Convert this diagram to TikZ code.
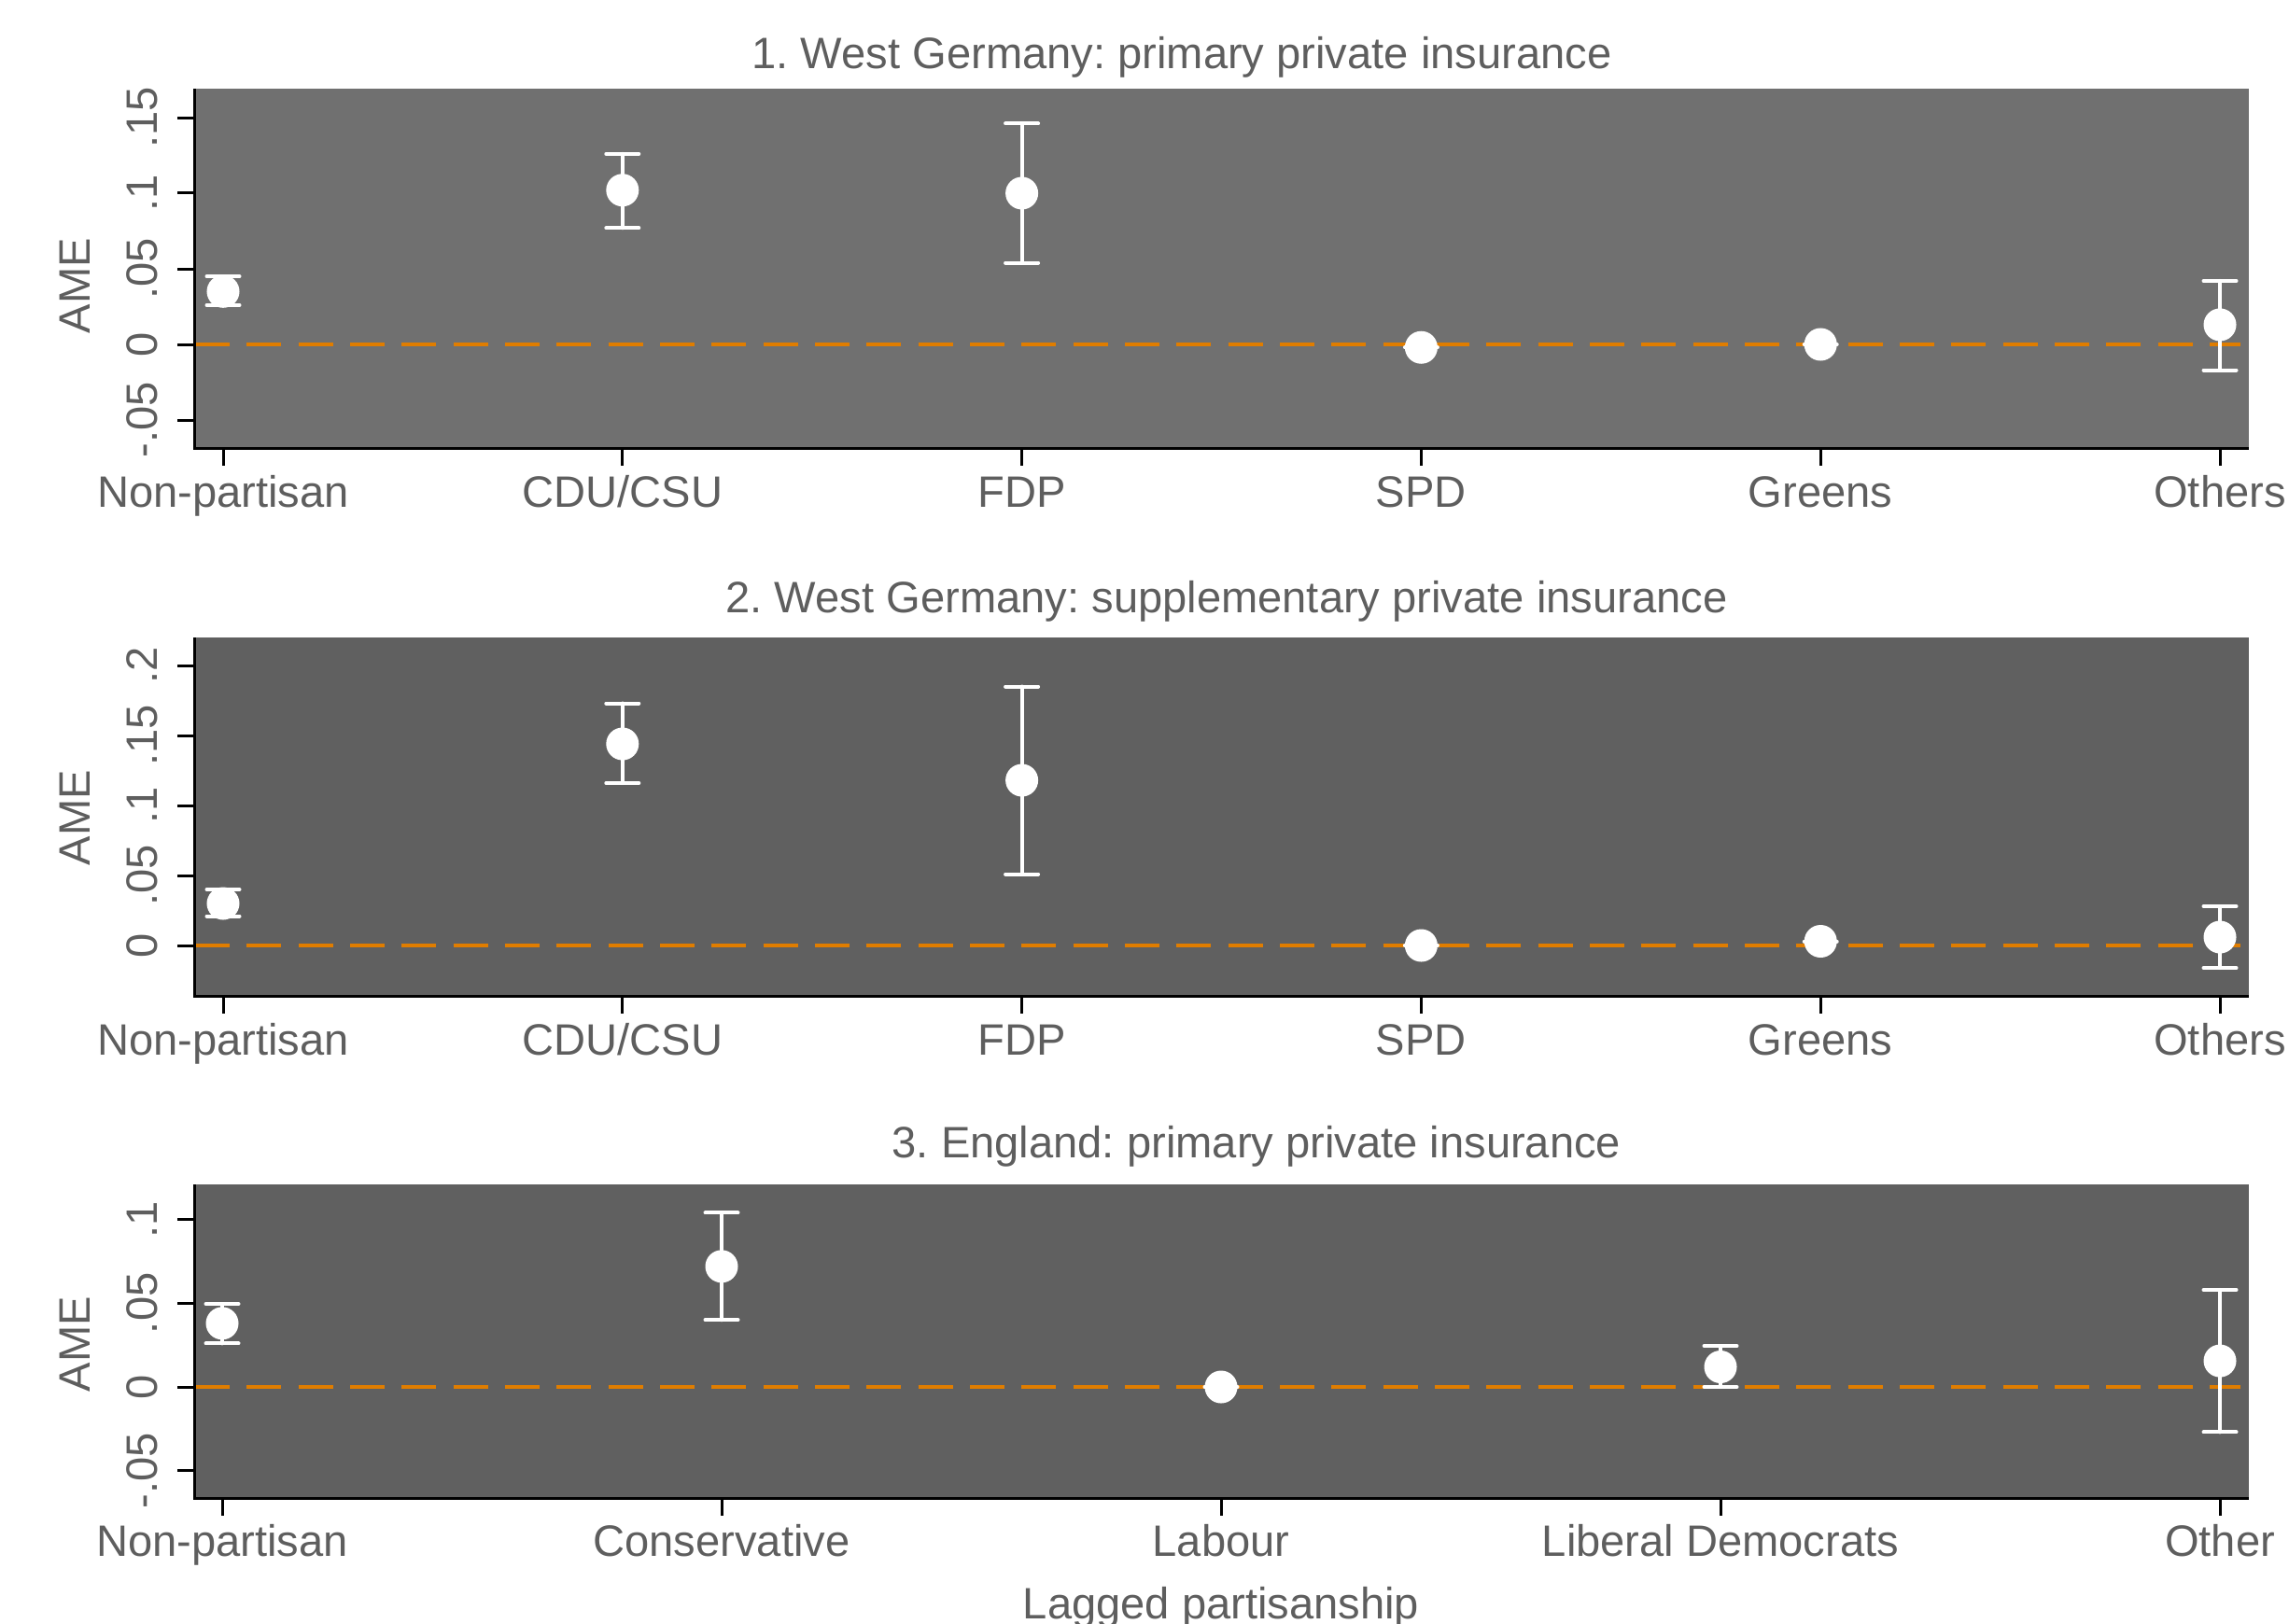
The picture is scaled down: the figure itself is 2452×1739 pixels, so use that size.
\documentclass[tikz,border=0pt]{standalone}
\usepackage{fontspec}
\setmainfont{Liberation Sans}
\frenchspacing
\definecolor{labgray}{RGB}{94,94,94}
\definecolor{plotbgA}{RGB}{112,112,112}
\definecolor{plotbgB}{RGB}{96,96,96}
\definecolor{refline}{RGB}{224,125,0}
\tikzset{
	axisline/.style={line width=0.03cm, black},
	ticklabel/.style={text=labgray, inner sep=0pt, anchor=base, font=\fontsize{13.4}{16}\selectfont},
	yticklabel/.style={ticklabel, rotate=90},
	ptmark/.style={circle, fill=white, inner sep=0pt, minimum size=0.35cm},
	cibar/.style={white, line width=0.04cm, line cap=round},
	zeroline/.style={refline, line width=0.045cm, dash pattern=on 0.37cm off 0.183cm},
}

\begin{document}
\begin{tikzpicture}[x=0.01cm, y=-0.01cm]
	\useasboundingbox (0,0) rectangle (2452,1739);
	% 1. West Germany, primary
	\node[ticklabel] (title1) at (1266,73) {1. West Germany: primary private insurance};
	\fill[plotbgA] (208,95) rectangle (2409,480);
	\draw[zeroline] (209,369) -- (2400,369);
	\foreach \k/\m/\lo/\hi in {0/.035/.026/.045, 1/.102/.077/.126, 2/.100/.054/.146, 3/-.002/-.002/-.002, 4/0/0/0, 5/.013/-.017/.042}
		{
		\pgfmathsetmacro\px{239+427.8*\k}
		\draw[cibar] (\px-17.5,{369-1620*\lo}) -- ++(35,0) (\px,{369-1620*\lo}) -- (\px,{369-1620*\hi}) (\px-17.5,{369-1620*\hi}) -- ++(35,0);
		\node[ptmark] (wgp-\k) at (\px,{369-1620*\m}) {};
		}
	\draw[axisline] (208,95) -- (208,480) -- (2409,480);
	\foreach \v [count=\i] in {-.05,0,.05,.1,.15}
		{
		\draw[axisline] (190,{369-1620*\v}) -- (208,{369-1620*\v});
		\node[yticklabel] (wgpy-\i) at (168,{369-1620*\v}) {\v};
		}
	\foreach \k/\t in {0/Non-partisan, 1/{CDU/CSU}, 2/FDP, 3/SPD, 4/Greens, 5/Others}
		{
		\draw[axisline] ({239+427.8*\k},480) -- ({239+427.8*\k},499);
		\node[ticklabel] (wgpx-\k) at ({239+427.8*\k},543) {\t};
		}
	\node[yticklabel] (ame1) at (97,306) {AME};
	% 2. West Germany, supplementary
	\node[ticklabel] (title2) at (1314,656) {2. West Germany: supplementary private insurance};
	\fill[plotbgB] (208,683) rectangle (2409,1067);
	\draw[zeroline] (209,1013) -- (2400,1013);
	\foreach \k/\m/\lo/\hi in {0/.030/.021/.040, 1/.144/.116/.173, 2/.118/.051/.185, 3/0/0/0, 4/.003/.003/.003, 5/.006/-.016/.028}
		{
		\pgfmathsetmacro\px{239+427.8*\k}
		\draw[cibar] (\px-17.5,{1013-1500*\lo}) -- ++(35,0) (\px,{1013-1500*\lo}) -- (\px,{1013-1500*\hi}) (\px-17.5,{1013-1500*\hi}) -- ++(35,0);
		\node[ptmark] (wgs-\k) at (\px,{1013-1500*\m}) {};
		}
	\draw[axisline] (208,683) -- (208,1067) -- (2409,1067);
	\foreach \v [count=\i] in {0,.05,.1,.15,.2}
		{
		\draw[axisline] (190,{1013-1500*\v}) -- (208,{1013-1500*\v});
		\node[yticklabel] (wgsy-\i) at (168,{1013-1500*\v}) {\v};
		}
	\foreach \k/\t in {0/Non-partisan, 1/{CDU/CSU}, 2/FDP, 3/SPD, 4/Greens, 5/Others}
		{
		\draw[axisline] ({239+427.8*\k},1067) -- ({239+427.8*\k},1086);
		\node[ticklabel] (wgsx-\k) at ({239+427.8*\k},1130) {\t};
		}
	\node[yticklabel] (ame2) at (97,876) {AME};
	% 3. England, primary
	\node[ticklabel] (title3) at (1346,1240) {3. England: primary private insurance};
	\fill[plotbgB] (208,1269) rectangle (2409,1605);
	\draw[zeroline] (209,1486) -- (2400,1486);
	\foreach \k/\m/\lo/\hi in {0/.038/.026/.0496, 1/.072/.040/.104, 2/0/0/0, 3/.012/0/.0245, 4/.0156/-.027/.058}
		{
		\pgfmathsetmacro\px{238+535*\k}
		\draw[cibar] (\px-17.5,{1486-1794*\lo}) -- ++(35,0) (\px,{1486-1794*\lo}) -- (\px,{1486-1794*\hi}) (\px-17.5,{1486-1794*\hi}) -- ++(35,0);
		\node[ptmark] (engp-\k) at (\px,{1486-1794*\m}) {};
		}
	\draw[axisline] (208,1269) -- (208,1605) -- (2409,1605);
	\foreach \v [count=\i] in {-.05,0,.05,.1}
		{
		\draw[axisline] (190,{1486-1794*\v}) -- (208,{1486-1794*\v});
		\node[yticklabel] (engpy-\i) at (168,{1486-1794*\v}) {\v};
		}
	\foreach \k/\t in {0/Non-partisan, 1/Conservative, 2/Labour, 3/Liberal Democrats, 4/Other}
		{
		\draw[axisline] ({238+535*\k},1605) -- ({238+535*\k},1624);
		\node[ticklabel] (engpx-\k) at ({238+535*\k},1667) {\t};
		}
	\node[yticklabel] (ame3) at (97,1440) {AME};
	\node[ticklabel] (xtitle) at (1308,1734) {Lagged partisanship};
\end{tikzpicture}
\end{document}
